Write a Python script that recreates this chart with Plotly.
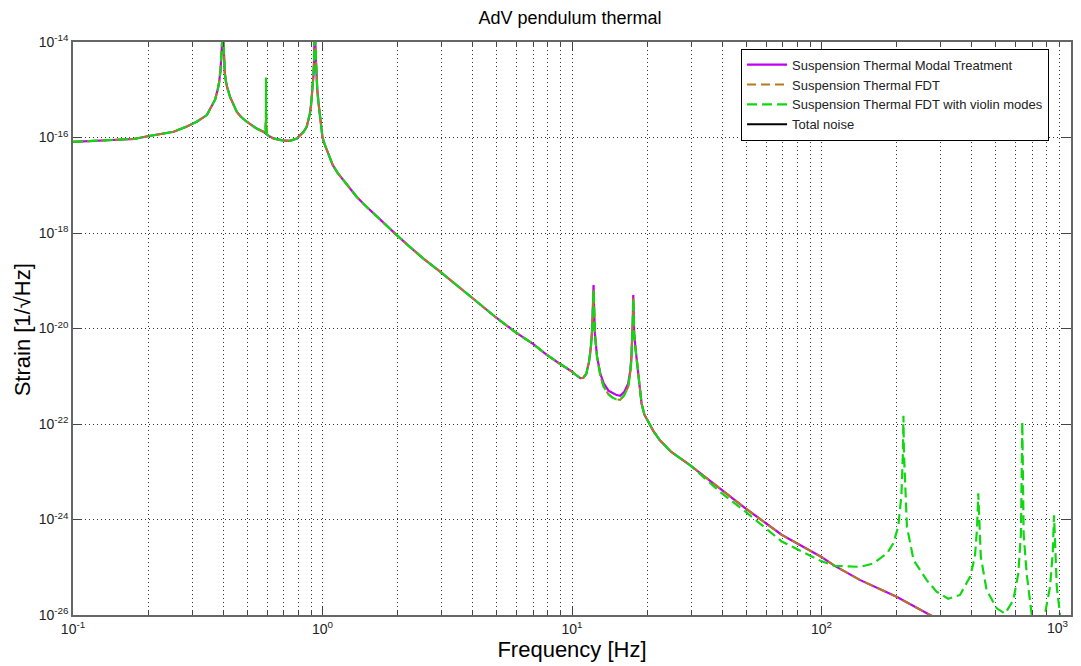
import plotly.graph_objects as go

# ---------------- data ----------------
# common low-frequency shape up to the first pendulum mode (Hz, strain)
freq_low = [0.1, 0.12, 0.145, 0.175, 0.197, 0.223, 0.253, 0.286, 0.313, 0.344, 0.371, 0.380,
            0.385, 0.390, 0.394, 0.396, 0.398, 0.400, 0.402, 0.406, 0.41, 0.415, 0.426, 0.44,
            0.453, 0.47, 0.497, 0.54, 0.579]
strain_low = [8.13e-17, 8.5e-17, 8.9e-17, 9.3e-17, 1.05e-16, 1.17e-16, 1.32e-16, 1.70e-16,
              2.14e-16, 2.95e-16, 6.2e-16, 1.0e-15, 1.41e-15, 2.51e-15, 5.0e-15, 1.0e-14,
              2.5e-14, 1.0e-14, 5.0e-15, 2.19e-15, 1.51e-15, 1.12e-15, 7.08e-16, 4.79e-16,
              3.47e-16, 2.75e-16, 2.14e-16, 1.58e-16, 1.32e-16]

# narrow 0.6 Hz spike (FDT curves only)
freq_spike = [0.590, 0.5935, 0.594, 0.5945, 0.598]
strain_spike = [1.26e-16, 3.16e-16, 1.78e-15, 3.16e-16, 1.17e-16]

freq_mid = [0.61, 0.636, 0.69, 0.741, 0.789, 0.82, 0.84, 0.865, 0.88, 0.89, 0.90, 0.906, 0.915,
            0.920, 0.925, 0.928, 0.933, 0.938, 0.945, 0.953, 0.965, 0.975, 0.99, 1.0, 1.02,
            1.04, 1.07, 1.10, 1.15, 1.21, 1.28, 1.37, 1.48, 1.60, 1.78, 1.98, 2.25, 2.53,
            2.96, 3.45, 4.02, 4.91, 5.91, 7.0, 7.92, 9.0, 9.98, 10.4, 10.8, 11.1, 11.4, 11.7,
            11.9, 12.05, 12.13]
strain_mid = [1.07e-16, 9.55e-17, 8.71e-17, 8.51e-17, 9.55e-17, 1.15e-16, 1.32e-16, 1.70e-16,
              2.4e-16, 3.16e-16, 4.8e-16, 7.08e-16, 1.26e-15, 2.0e-15, 4.0e-15, 6.3e-15,
              3.2e-14, 6.3e-15, 2.5e-15, 1.0e-15, 5.0e-16, 3.16e-16, 1.41e-16, 1.0e-16,
              7.2e-17, 5.5e-17, 3.63e-17, 2.63e-17, 1.82e-17, 1.29e-17, 9.1e-18, 5.75e-18,
              3.8e-18, 2.57e-18, 1.48e-18, 9.12e-19, 5.0e-19, 2.95e-19, 1.55e-19, 7.9e-20,
              4.2e-20, 1.78e-20, 8.51e-21, 4.7e-21, 2.82e-21, 1.78e-21, 1.26e-21, 1.05e-21,
              9.12e-22, 9.3e-22, 1.12e-21, 2.0e-21, 4.0e-21, 1.0e-20, 2.5e-20]

# 12-30 Hz region: modal treatment vs FDT
freq_res = [12.2, 12.27, 12.35, 12.6, 13.0, 13.4, 14.0, 14.5, 15.0, 15.6, 16.2, 16.8, 17.1,
            17.3, 17.45, 17.53, 17.6, 17.67, 17.75, 18.0, 18.3, 18.6, 19.0, 19.5, 20.2, 21.2,
            22.5, 25.0, 29.7]
strain_res_modal = [8.1e-20, 2.5e-20, 7.9e-21, 2.57e-21, 1.12e-21, 7.1e-22, 5.0e-22, 4.5e-22,
                    4.1e-22, 3.9e-22, 4.7e-22, 7.1e-22, 1.26e-21, 2.5e-21, 6.3e-21, 1.6e-20,
                    5.0e-20, 1.6e-20, 7.9e-21, 3.55e-21, 1.58e-21, 6.3e-22, 2.69e-22, 1.58e-22,
                    1.12e-22, 7.1e-23, 4.57e-23, 2.6e-23, 1.38e-23]
strain_res_fdt = [6.5e-20, 2.3e-20, 7.9e-21, 2.57e-21, 1.0e-21, 6.0e-22, 4.2e-22, 3.6e-22,
                  3.3e-22, 3.2e-22, 4.0e-22, 6.0e-22, 1.12e-21, 2.2e-21, 6.0e-21, 1.5e-20,
                  4.3e-20, 1.5e-20, 7.9e-21, 3.55e-21, 1.58e-21, 6.3e-22, 2.69e-22, 1.58e-22,
                  1.12e-22, 7.1e-23, 4.57e-23, 2.6e-23, 1.38e-23]

# high-frequency tail without violin modes
freq_tail = [39.8, 49.7, 69.2, 99.6, 113, 143, 200, 272, 300]
strain_tail = [4.17e-24, 1.70e-24, 4.79e-25, 1.66e-25, 1.07e-25, 5.37e-26, 2.40e-26, 1.0e-26, 7.6e-27]

# high-frequency tail with violin modes
freq_violin = [39.8, 49.7, 69.2, 99.6, 113, 143, 161, 183, 194, 203, 209, 212, 213, 214, 217,
               220, 234, 264, 289, 322, 359, 394, 412, 420, 425, 430, 435, 459, 504, 544, 587,
               615, 630, 638, 646, 664, 696, 731, 787, 824, 845, 855, 865, 877, 904, 950, 1000]
strain_violin = [3.55e-24, 1.45e-24, 3.47e-25, 1.35e-25, 1.07e-25, 1.02e-25, 1.20e-25, 1.95e-25,
                 3.16e-25, 7.08e-25, 3.16e-24, 2.5e-23, 1.48e-22, 2.5e-23, 3.16e-24, 7.08e-25,
                 1.41e-25, 5.37e-26, 3.09e-26, 2.19e-26, 2.63e-26, 6.31e-26, 1.66e-25, 6.31e-25,
                 3.55e-24, 6.31e-25, 1.66e-25, 3.31e-26, 1.38e-26, 1.07e-26, 2.04e-26, 7.41e-26,
                 5.0e-25, 1.12e-22, 5.0e-25, 7.41e-26, 1.0e-26, 5.0e-27, 1.07e-26, 3.89e-26,
                 2.0e-25, 1.23e-24, 2.0e-25, 3.89e-26, 1.0e-26, 4.0e-27, 3.2e-27]

series_names = ["Suspension Thermal Modal Treatment", "Suspension Thermal FDT",
                "Suspension Thermal FDT with violin modes", "Total noise"]

x_tickvals = [0.1, 1, 10, 100, 1000]
x_ticktext = ["10<sup>-1</sup>", "10<sup>0</sup>", "10<sup>1</sup>", "10<sup>2</sup>", ""]
x_last_label = "10<sup>3</sup>"   # drawn separately so it is not clipped at the page edge
y_tickvals = [1e-26, 1e-24, 1e-22, 1e-20, 1e-18, 1e-16, 1e-14]
y_ticktext = ["10<sup>-26</sup>", "10<sup>-24</sup>", "10<sup>-22</sup>", "10<sup>-20</sup>",
              "10<sup>-18</sup>", "10<sup>-16</sup>", "10<sup>-14</sup>"]

# ---------------- assemble series ----------------
f_modal = freq_low + freq_mid + freq_res + freq_tail
s_modal = strain_low + strain_mid + strain_res_modal + strain_tail
f_fdt = freq_low + freq_spike + freq_mid + freq_res + freq_tail
s_fdt = strain_low + strain_spike + strain_mid + strain_res_fdt + strain_tail
f_vio = freq_low + freq_spike + freq_mid + freq_res + freq_violin
s_vio = strain_low + strain_spike + strain_mid + strain_res_fdt + strain_violin

FONT = "Liberation Sans, Arial, sans-serif"

fig = go.Figure()
fig.add_trace(go.Scatter(x=f_modal, y=s_modal, mode="lines", name=series_names[0],
                         line=dict(color="#c000f0", width=2.2)))
fig.add_trace(go.Scatter(x=f_fdt, y=s_fdt, mode="lines", name=series_names[1],
                         line=dict(color="#b07a1e", width=2, dash="9px,5px")))
fig.add_trace(go.Scatter(x=f_vio, y=s_vio, mode="lines", name=series_names[2],
                         line=dict(color="#10d810", width=2.2, dash="10px,5px")))
fig.add_trace(go.Scatter(x=[None], y=[None], mode="lines", name=series_names[3],
                         line=dict(color="black", width=2)))

axis_common = dict(
    showline=True, linecolor="#666666", linewidth=1.5, mirror="ticks",
    ticks="inside", tickcolor="#444444", tickwidth=1,
    showgrid=True, gridcolor="#333333", griddash="1px,3px", gridwidth=1,
    zeroline=False, automargin=False, ticklabeloverflow="allow",
    tickfont=dict(family=FONT, size=14, color="#222222"),
)

fig.update_xaxes(type="log", range=[-1, 3], tickvals=x_tickvals, ticktext=x_ticktext,
                 ticklen=8,
                 minor=dict(dtick="D1", ticks="inside", ticklen=5, tickcolor="#444444",
                            showgrid=True, gridcolor="#333333", griddash="1px,3px"),
                 title=dict(text="Frequency [Hz]", font=dict(family=FONT, size=22, color="black"),
                            standoff=4),
                 **axis_common)
fig.update_yaxes(type="log", range=[-26, -14], tickvals=y_tickvals, ticktext=y_ticktext,
                 ticklen=9, **axis_common)

# the page adds an 8px body margin; the figure is sized so the plot lands where the reference's is
fig.update_layout(
    width=1073, height=658,
    margin=dict(l=65, r=10, t=34, b=51),
    paper_bgcolor="white", plot_bgcolor="white",
    title=dict(text="AdV pendulum thermal", x=0.498, xanchor="center", xref="paper",
               y=0.986, yref="container", yanchor="middle",
               font=dict(family=FONT, size=18, color="black")),
    font=dict(family=FONT),
    showlegend=True,
    legend=dict(x=0.978, xanchor="right", y=0.9885, yanchor="top",
                bgcolor="white", bordercolor="black", borderwidth=1,
                font=dict(family=FONT, size=13, color="#222222"),
                tracegroupgap=0, itemwidth=40),
    annotations=[
        dict(text="Strain [1/√Hz]", textangle=-90, xref="paper", yref="paper",
             x=-0.051, y=0.497, xanchor="center", yanchor="middle", showarrow=False,
             font=dict(family=FONT, size=22, color="black")),
        dict(text=x_last_label, xref="paper", yref="paper", x=1.0, y=0.0,
             xanchor="right", yanchor="top", xshift=0, yshift=-1, showarrow=False,
             font=dict(family=FONT, size=14, color="#222222")),
    ],
)

fig.write_html("out.html")
